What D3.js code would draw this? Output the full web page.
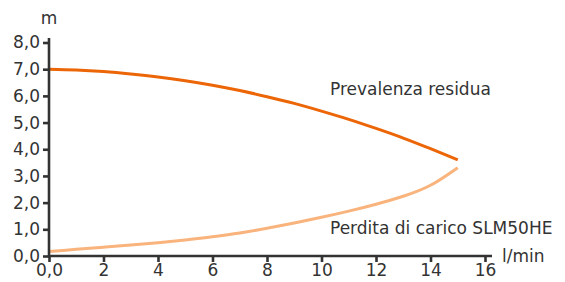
<!DOCTYPE html>
<html><head><meta charset="utf-8">
<script src="https://cdn.jsdelivr.net/npm/d3@7"></script>
<style>body{margin:0;background:#fff}svg{display:block}text{font-family:"DejaVu Sans",sans-serif;fill:#333}</style>
</head><body>
<svg id="c" width="565" height="282"></svg>
<script>
const flow = [0,1,2,3,4,5,6,7,8,9,10,11,12,13,14,15];
const prevalenza = [7.0,6.97,6.91,6.82,6.71,6.57,6.40,6.20,5.97,5.72,5.43,5.12,4.78,4.42,4.02,3.60];
const perdita = [0.17,0.25,0.33,0.41,0.50,0.60,0.72,0.86,1.04,1.24,1.45,1.68,1.94,2.24,2.65,3.31];
const xTicks = [0,2,4,6,8,10,12,14,16];
const yTicks = [0,1,2,3,4,5,6,7,8];
const fmt = v => v.toFixed(1).replace('.', ',');
const FONT = '"DejaVu Sans",sans-serif';
const FS = '17px';

const svg = d3.select('#c');
const x = d3.scaleLinear().domain([0,16]).range([49,485]);
const y = d3.scaleLinear().domain([0,8]).range([256,42.5]);

const line = d3.line().curve(d3.curveNatural);
svg.append('path').attr('d', line(flow.map((f,i)=>[x(f), y(perdita[i])])))
  .attr('fill','none').attr('stroke','#f9b37c').attr('stroke-width',3);
svg.append('path').attr('d', line(flow.map((f,i)=>[x(f), y(prevalenza[i])])))
  .attr('fill','none').attr('stroke','#ec6608').attr('stroke-width',3);

// axes
const ax = svg.append('g').attr('transform','translate(0,256)')
  .call(d3.axisBottom(x).tickValues(xTicks).tickSize(6).tickPadding(2).tickFormat(d => d===0 ? '0,0' : d));
ax.select('.domain').attr('d', `M${x(0)-1},0H492`);
const ay = svg.append('g').attr('transform','translate(49,0)')
  .call(d3.axisLeft(y).tickValues(yTicks).tickSize(6).tickPadding(3).tickFormat(fmt));
ay.select('.domain').attr('d', `M0,38V${y(0)+1.5}`);
[ax, ay].forEach(g => {
  g.selectAll('.domain').attr('stroke','#333').attr('stroke-width',2.6);
  g.selectAll('.tick line').attr('stroke','#333').attr('stroke-width',2.6);
  g.selectAll('.tick text').attr('fill','#333').style('font-size',FS).style('font-family',FONT);
});

svg.append('text').attr('x',49).attr('y',24).attr('text-anchor','middle').style('font-size',FS).text('m');
svg.append('text').attr('x',502).attr('y',262).style('font-size',FS).text('l/min');
svg.append('text').attr('x',330).attr('y',95).style('font-size',FS).text('Prevalenza residua');
svg.append('text').attr('x',330).attr('y',234).style('font-size',FS).text('Perdita di carico SLM50HE');
</script>
</body></html>
